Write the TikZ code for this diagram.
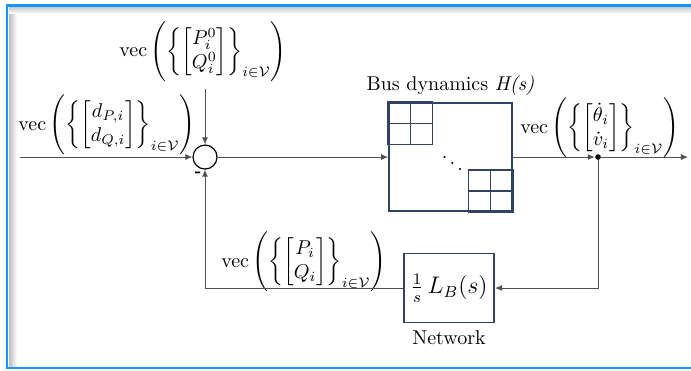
\documentclass[tikz,border=0pt]{standalone}
\usepackage{amsmath,amssymb}
\usetikzlibrary{arrows.meta,positioning}
\definecolor{framblue}{RGB}{20,150,255}
\definecolor{blkblue}{RGB}{50,65,100}
\definecolor{sigline}{RGB}{80,80,80}
\newcommand{\vecset}[2]{\operatorname{vec}\,\Biggl(\biggl\{\begin{bmatrix}#1\\#2\end{bmatrix}\biggr\}_{i\in\mathcal{V}}\Biggr)}

\begin{document}
\begin{tikzpicture}[>={Latex[length=3.5pt,width=3pt]},
  sig/.style={sigline, line width=0.5pt},
  blk/.style={draw=blkblue, line width=0.8pt, fill=white},
  cell/.style={draw=blkblue, line width=0.8pt}]
\clip (0,0) rectangle (12.144,6.503);

% frame with a soft shadow on the inside
\shade[left color=black!25, right color=white] (0.16,0.05) rectangle (0.30,6.39);
\shade[top color=black!22, bottom color=white] (0.16,6.26) rectangle (12.144,6.39);
\draw[framblue, line width=1.3pt] (0.123,0.035) rectangle (12.5,6.406);

% summing junction
\node[circle, draw=black, line width=0.6pt, minimum size=12pt, inner sep=0pt] (sum) at (3.603,3.743) {};
\node[font=\footnotesize\bfseries] (minus) at (3.48,3.44) {-};

% bus dynamics, block diagonal
\node[blk, minimum width=2.161cm, minimum height=1.898cm] (bus) at (7.917,3.743) {};
\node[above=0pt of bus] (bustitle) {Bus dynamics \textit{H(s)}};
\foreach \i in {0,1}
  \foreach \j in {0,1} {
    \draw[cell, shift={(bus.north west)}] (\i*0.39,-\j*0.37) rectangle +(0.39,-0.37);
    \draw[cell, shift={(bus.south east)}] (-\i*0.39,\j*0.37) rectangle +(-0.39,0.37);
  }
\node (dots) at ([xshift=1pt]bus.center) {$\ddots$};

% network
\node[blk, minimum width=1.406cm, minimum height=1.213cm] (net) at (7.891,1.441) {\large$\frac{1}{s}\,L_B(s)$};
\node[below=0pt of net] (netlabel) {Network};

\node[circle, fill=black, inner sep=0pt, minimum size=2.8pt] (split) at (10.51,3.743) {};
\coordinate (in) at (0.35,3.743);
\coordinate (out) at (12.09,3.743);

% signal labels
\node (p0) at (3.57,5.59) {$\vecset{P_i^0}{Q_i^0}$};
\node (dist) at (1.88,4.306) {$\vecset{d_{P,i}}{d_{Q,i}}$};
\node (rates) at (10.54,4.253) {$\vecset{\dot\theta_i}{\dot v_i}$};
\node (pq) at (5.34,1.898) {$\vecset{P_i}{Q_i}$};

% signals
\draw[sig,->] (in) -- (sum);
\draw[sig,->] (p0.south -| sum) -- (sum);
\draw[sig,->] (sum) -- (bus);
\draw[sig,->] (bus) -- (split);
\draw[sig,->] (split) -- (out);
\draw[sig,->] (split) |- (net);
\draw[sig,->] (net) -| (sum);

\end{tikzpicture}
\end{document}
